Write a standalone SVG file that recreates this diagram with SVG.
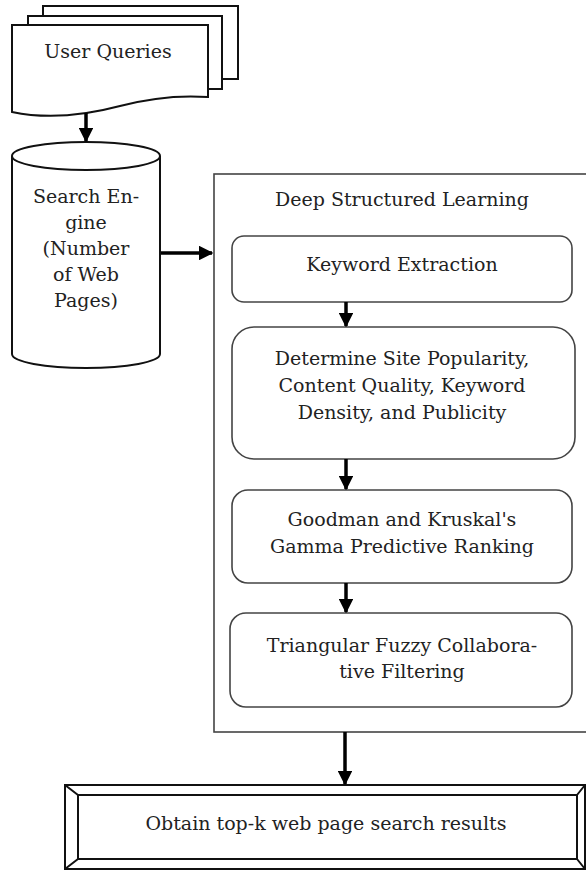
<svg xmlns="http://www.w3.org/2000/svg" width="586" height="871" viewBox="0 0 586 871">
<style>
.t{font-family:"DejaVu Serif","Liberation Serif",serif;font-size:19px;fill:#222;text-anchor:middle}
.s{fill:#fff;stroke:#111;stroke-width:2}
.r{fill:#fff;stroke:#444;stroke-width:1.6}
.c{fill:none;stroke:#000;stroke-width:3.5}
</style>
<defs>
<marker id="ah" viewBox="0 0 10 10" refX="9" refY="5" markerWidth="4.2" markerHeight="4.2" markerUnits="strokeWidth" orient="auto">
<path d="M0,0 L10,5 L0,10 Z" fill="#000"/>
</marker>
</defs>
<rect width="586" height="871" fill="#fff"/>
<g id="user-queries">
<rect class="s" x="43" y="6" width="195" height="73"/>
<rect class="s" x="28" y="16" width="194" height="73"/>
<path class="s" d="M12,25 H208 V97 C180,95 150,98 120,106 C90,114 50,120 12,112 Z"/>
<text class="t" x="108" y="58">User Queries</text>
</g>
<g id="search-engine">
<path class="s" d="M12,156 V354 A74,14 0 0 0 160,354 V156"/>
<ellipse class="s" cx="86" cy="156" rx="74" ry="14"/>
<text class="t" x="86" y="203">Search En-</text>
<text class="t" x="86" y="229">gine</text>
<text class="t" x="86" y="255">(Number</text>
<text class="t" x="86" y="281">of Web</text>
<text class="t" x="86" y="307">Pages)</text>
</g>
<g id="deep-structured-learning">
<rect x="214" y="174" width="375" height="558" fill="#fff" stroke="#444" stroke-width="1.6"/>
<text class="t" x="402" y="206">Deep Structured Learning</text>
</g>
<g id="keyword-extraction">
<rect class="r" x="232" y="236" width="340" height="66" rx="12"/>
<text class="t" x="402" y="271">Keyword Extraction</text>
</g>
<g id="determine-site">
<rect class="r" x="232" y="327" width="343" height="132" rx="22"/>
<text class="t" x="402" y="365">Determine Site Popularity,</text>
<text class="t" x="402" y="392">Content Quality, Keyword</text>
<text class="t" x="402" y="419">Density, and Publicity</text>
</g>
<g id="gamma-ranking">
<rect class="r" x="232" y="490" width="340" height="93" rx="16"/>
<text class="t" x="402" y="526">Goodman and Kruskal's</text>
<text class="t" x="402" y="553">Gamma Predictive Ranking</text>
</g>
<g id="fuzzy-filtering">
<rect class="r" x="230" y="613" width="342" height="94" rx="16"/>
<text class="t" x="402" y="652">Triangular Fuzzy Collabora-</text>
<text class="t" x="402" y="678">tive Filtering</text>
</g>
<g id="results">
<rect class="s" x="65" y="785" width="520" height="84"/>
<rect class="s" x="78" y="795" width="499" height="64"/>
<path d="M65,785 L78,795 M585,785 L577,795 M65,869 L78,859 M585,869 L577,859" stroke="#111" stroke-width="2" fill="none"/>
<text class="t" x="326" y="830">Obtain top-k web page search results</text>
</g>
<g id="connectors">
<line class="c" x1="86" y1="113" x2="86" y2="141" marker-end="url(#ah)"/>
<line class="c" x1="161" y1="253" x2="212" y2="253" marker-end="url(#ah)"/>
<line class="c" x1="346" y1="302" x2="346" y2="326" marker-end="url(#ah)"/>
<line class="c" x1="346" y1="459" x2="346" y2="489" marker-end="url(#ah)"/>
<line class="c" x1="346" y1="583" x2="346" y2="612" marker-end="url(#ah)"/>
<line class="c" x1="345" y1="732" x2="345" y2="784" marker-end="url(#ah)"/>
</g>
</svg>
